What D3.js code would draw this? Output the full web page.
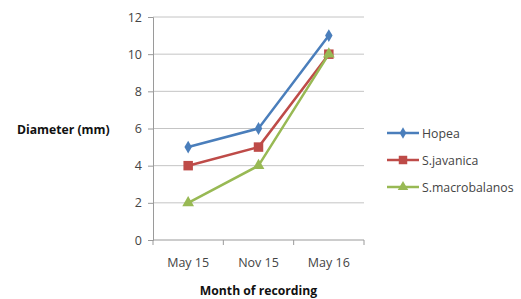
<!DOCTYPE html>
<html>
<head>
<meta charset="utf-8">
<script src="https://cdn.jsdelivr.net/npm/d3@7"></script>
<style>
  body { margin: 0; background: #fff; }
  text { font-family: "Open Sans", "Liberation Sans", sans-serif; fill: #444; }
  .title { font-weight: bold; fill: #111; font-size: 12.2px; }
</style>
</head>
<body>
<div id="chart"></div>
<script>
const months = ['May 15', 'Nov 15', 'May 16'];
const yTicks = [0, 2, 4, 6, 8, 10, 12];
const hopea = [5, 6, 11];
const javanica = [4, 5, 10];
const macrobalanos = [2, 4, 10];

const series = [
  { name: 'Hopea', values: hopea, color: '#4a7ebb', symbol: d3.symbolDiamond, size: 48 },
  { name: 'S.javanica', values: javanica, color: '#be4b48', symbol: d3.symbolSquare, size: 90 },
  { name: 'S.macrobalanos', values: macrobalanos, color: '#98b954', symbol: d3.symbolTriangle, size: 60 },
];

const W = 521, H = 299;
const pad = { l: 153, r: 157, t: 17, b: 59 };

const svg = d3.select('#chart').append('svg')
  .attr('width', W).attr('height', H);

const x = d3.scaleBand().domain(months).range([pad.l, W - pad.r]);
const y = d3.scaleLinear().domain([0, 12]).range([H - pad.b, pad.t]);

// gridlines
svg.append('g')
  .selectAll('line')
  .data(yTicks.filter(d => d > 0))
  .join('line')
  .attr('x1', pad.l).attr('x2', W - pad.r)
  .attr('y1', d => y(d)).attr('y2', d => y(d))
  .attr('stroke', '#c4c4c4').attr('stroke-width', 1);

// y axis
const yg = svg.append('g')
  .attr('transform', `translate(${pad.l},0)`)
  .call(d3.axisLeft(y).tickValues(yTicks).tickSize(5).tickPadding(6));
yg.select('.domain').attr('stroke', '#9a9a9a');
yg.selectAll('.tick line').attr('stroke', '#9a9a9a');
yg.selectAll('.tick text').style('font-size', '12.5px').attr('fill', '#444');

// x axis
const xg = svg.append('g')
  .attr('transform', `translate(0,${H - pad.b})`);
xg.append('line')
  .attr('x1', pad.l).attr('x2', W - pad.r)
  .attr('stroke', '#9a9a9a');
const bounds = [pad.l].concat(months.map(m => x(m) + x.bandwidth()));
xg.selectAll('.tk')
  .data(bounds)
  .join('line')
  .attr('x1', d => d).attr('x2', d => d)
  .attr('y1', 0).attr('y2', 5)
  .attr('stroke', '#9a9a9a');
xg.selectAll('.lbl')
  .data(months)
  .join('text')
  .attr('x', d => x(d) + x.bandwidth() / 2)
  .attr('y', 27)
  .attr('text-anchor', 'middle')
  .style('font-size', '12.5px')
  .text(d => d);

// lines + markers
const line = d3.line()
  .x((d, i) => x(months[i]) + x.bandwidth() / 2)
  .y(d => y(d));

series.forEach(s => {
  svg.append('path')
    .datum(s.values)
    .attr('d', line)
    .attr('fill', 'none')
    .attr('stroke', s.color)
    .attr('stroke-width', 2.5);
  svg.append('g')
    .selectAll('path')
    .data(s.values)
    .join('path')
    .attr('transform', (d, i) => `translate(${x(months[i]) + x.bandwidth() / 2},${y(d)})`)
    .attr('d', d3.symbol().type(s.symbol).size(s.size))
    .attr('fill', s.color);
});

// axis titles
svg.append('text').attr('class', 'title')
  .attr('x', 17).attr('y', 134)
  .text('Diameter (mm)');
svg.append('text').attr('class', 'title')
  .attr('x', x('Nov 15') + x.bandwidth() / 2).attr('y', 295)
  .attr('text-anchor', 'middle')
  .text('Month of recording');

// legend
const lg = svg.append('g').attr('transform', 'translate(387,133)');
const rows = lg.selectAll('g')
  .data(series)
  .join('g')
  .attr('transform', (d, i) => `translate(0,${i * 27})`);
rows.append('line')
  .attr('x1', 0).attr('x2', 32)
  .attr('stroke', d => d.color).attr('stroke-width', 2.5);
rows.append('path')
  .attr('transform', 'translate(16,0)')
  .attr('d', d => d3.symbol().type(d.symbol).size(d.size * 0.8)())
  .attr('fill', d => d.color);
rows.append('text')
  .attr('x', 35).attr('y', 4.5)
  .style('font-size', '12.3px')
  .text(d => d.name);
</script>
</body>
</html>
